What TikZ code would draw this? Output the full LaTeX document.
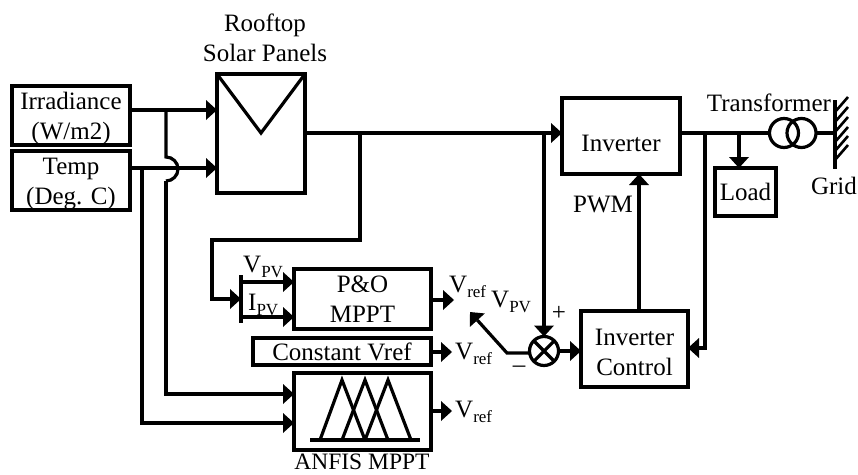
\documentclass[tikz,border=0pt]{standalone}
\usepackage{fontspec}
\setmainfont{Liberation Serif}
\usetikzlibrary{arrows.meta}
\newcommand{\tsub}[2]{#1\raisebox{-0.22em}{\fontsize{17}{17}\selectfont #2}}
\newcommand{\topgap}[1]{\rule{0pt}{#1pt}}
\tikzset{
 x=1pt,y=-1pt,
 wire/.style={line width=3.2pt,line cap=butt,line join=miter},
 arr/.style={wire,-{Triangle[length=11pt,width=20pt,line width=0pt]}},
 blk/.style={draw,line width=3.2pt,rectangle,minimum width=0pt,inner sep=0pt,outer sep=0pt,anchor=north west},
 lbl/.style={font=\fontsize{25}{30}\selectfont,align=center,inner sep=0pt},
}
\begin{document}
\begin{tikzpicture}
\useasboundingbox (0,0) rectangle (858,474);
% boxes
\node[blk,minimum width=118pt,minimum height=59pt,lbl] (irr) at (12,86) {\topgap{23}Irradiance\\(W/m2)};
\node[blk,minimum width=118pt,minimum height=59pt,lbl] (tmp) at (12,151) {\topgap{23}Temp\\(Deg. C)};
\node[blk,minimum width=88pt,minimum height=119pt] (pv) at (217,74) {};
\node[blk,minimum width=137pt,minimum height=60pt,lbl] (po) at (294,269) {P\&O\\MPPT};
\node[blk,minimum width=178pt,minimum height=27pt,lbl] (cv) at (253,338) {Constant Vref};
\node[blk,minimum width=137pt,minimum height=77pt] (anfis) at (294,373) {};
\node[blk,minimum width=118pt,minimum height=76pt,lbl] (inv) at (562,98) {\topgap{31}Inverter};
\node[blk,minimum width=107pt,minimum height=76pt,lbl] (ctl) at (581,311) {\topgap{23}Inverter\\Control};
\node[blk,minimum width=61pt,minimum height=48pt,lbl] (load) at (715,168) {Load};
\node[draw,line width=3.2pt,circle,minimum size=29pt,inner sep=0pt,outer sep=0pt] (sum) at (544,351) {};
\draw[line width=3.2pt] (sum.north west)--(sum.south east) (sum.north east)--(sum.south west);
% labels
\node[lbl] (roof) at (265,38) {Rooftop\\Solar Panels};
\node[lbl,font=\fontsize{23.5}{30}\selectfont] (anl) at (362,461.5) {ANFIS MPPT};
\node[lbl] (pwm) at (603,204) {PWM};
\node[lbl] (tr) at (769,103) {Transformer};
\node[lbl] (grd) at (834,186) {Grid};
\node[lbl,anchor=west] (v1) at (449,287) {\tsub{V}{ref}};
\node[lbl,anchor=west] (v2) at (455,354) {\tsub{V}{ref}};
\node[lbl,anchor=west] (v3) at (455,412) {\tsub{V}{ref}};
\node[lbl,anchor=west] (v4) at (491,302) {\tsub{V}{PV}};
\node[lbl,anchor=west] (v5) at (243,267) {\tsub{V}{PV}};
\node[lbl,anchor=west] (i5) at (248,305) {\tsub{I}{PV}};
\node[lbl] (pl) at (559,313) {+};
\node[lbl] (mn) at (519,369) {–};
% PV symbol
\draw[wire] (pv.north west)--(261,133)--(pv.north east);
% ANFIS membership functions
\draw[wire] (310,440)--(420,440);
\draw[wire] (320,440)--(342,380)--(365,440);
\draw[wire] (342,440)--(365,380)--(388,440);
\draw[wire] (365,440)--(388,380)--(411,440);
% inputs
\coordinate (a1) at (217,110); \coordinate (a2) at (217,168);
\draw[arr] (irr.east|-a1)--(a1);
\draw[arr] (tmp.east|-a2)--(a2);
\coordinate (j1) at (166,110);
\coordinate (j2) at (142,168);
\coordinate (h1) at (166,157);
\coordinate (h2) at (166,181);
\draw[wire] (j1)--(h1) arc[start angle=90,end angle=-90,radius=12pt];
\draw[arr] (h2)--(166,394)--(anfis.west|-0,394);
\draw[arr] (j2)--(142,423)--(anfis.west|-0,423);
% PV out
\coordinate (pvo) at (305,133);
\coordinate (invin) at (562,133);
\draw[arr] (pvo)--(invin);
\coordinate (bart) at (241,275);\coordinate (barb) at (241,323);
\draw[arr] (360,133)--(360,240)--(212,240)--(212,299)--(241,299);
\draw[wire] (bart)--(barb);
\draw[arr] (241,282)--(po.west|-0,282);
\draw[arr] (241,317)--(po.west|-0,317);
\draw[arr] (544,133)--(sum.north);
% outputs
\draw[arr] (po.east|-0,300)--(454,300);
\draw[arr] (cv.east|-0,352)--(452,352);
\draw[arr] (anfis.east|-0,411)--(452,411);
\coordinate (sw) at (507,353);
\coordinate (swt) at (470,312);
\draw[arr] (sum.west|-sw)--(sw)--(swt);
\draw[arr] (sum.east)--(ctl.west|-sum);
\draw[arr] (639,311)--(639,174);
% grid side
\coordinate (tin) at (769,133);
\draw[wire] (inv.east|-tin)--(tin);
\draw[arr] (739,133)--(739,168);
\draw[arr] (705,133)--(705,348)--(ctl.east|-0,348);
\node[draw,line width=3.2pt,circle,minimum size=29pt,inner sep=0pt,outer sep=0pt] (t1) at (784,133) {};
\node[draw,line width=3.2pt,circle,minimum size=29pt,inner sep=0pt,outer sep=0pt] (t2) at (801.5,133) {};
\coordinate (g) at (835,133);
\draw[wire] (t2.east)--(g);
\draw[wire] (835,100)--(835,169);
\foreach \yy in {112,122,132,142,151,160}{\draw[line width=2.6pt] (835,\yy)--(848,\yy-15);}
\end{tikzpicture}
\end{document}
